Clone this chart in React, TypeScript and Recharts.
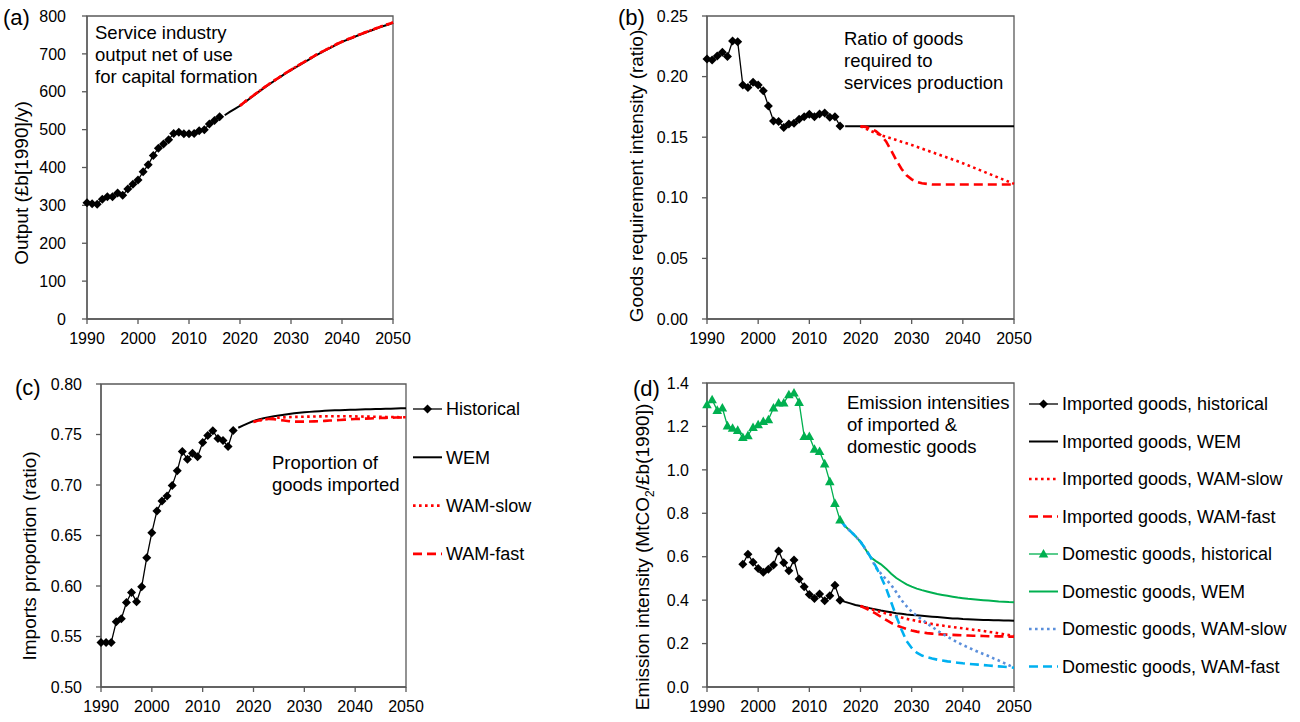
import React from "react";
import { LineChart, Line, XAxis, YAxis, ReferenceArea } from "recharts";

const xTicks = [1990, 2000, 2010, 2020, 2030, 2040, 2050];

// (a) service industry output, £b[1990]/y
const outHist = [307, 304, 303, 316, 323, 323, 333, 327, 343, 356, 367, 389, 407, 432, 451, 462, 473, 490, 493, 489, 489, 490, 497, 500, 515, 524, 534];
const outWem = [538, 547, 555, 563, 573, 583, 593, 603, 613, 622, 631, 640, 649, 657, 665, 673, 681, 689, 697, 704, 711, 718, 725, 732, 737, 742, 748, 753, 758, 763, 768, 773, 777, 782];
const outWam = [563, 574, 584, 594, 604, 614, 623, 632, 641, 650, 658, 666, 674, 682, 690, 698, 705, 712, 719, 726, 732, 738, 743, 749, 754, 759, 764, 769, 774, 778, 783];

// (b) goods requirement intensity
const ratioHist = [0.2145, 0.2137, 0.217, 0.22, 0.2165, 0.2294, 0.2288, 0.193, 0.191, 0.1953, 0.193, 0.1884, 0.1757, 0.1634, 0.163, 0.158, 0.1609, 0.1615, 0.1648, 0.1669, 0.1689, 0.1669, 0.1691, 0.17, 0.1664, 0.1669, 0.1592];
const ratioWem = [0.159, 0.159, 0.159, 0.159, 0.159, 0.159, 0.159, 0.159, 0.159, 0.159, 0.159, 0.159, 0.159, 0.159, 0.159, 0.159, 0.159, 0.159, 0.159, 0.159, 0.159, 0.159, 0.159, 0.159, 0.159, 0.159, 0.159, 0.159, 0.159, 0.159, 0.159, 0.159, 0.159, 0.159];
const ratioSlow = [0.159, 0.1571, 0.1552, 0.1533, 0.1517, 0.1503, 0.149, 0.1477, 0.1463, 0.145, 0.1436, 0.1421, 0.1406, 0.1391, 0.1376, 0.1361, 0.1346, 0.1331, 0.1316, 0.1301, 0.1285, 0.1268, 0.1251, 0.1234, 0.1217, 0.12, 0.1183, 0.1166, 0.1149, 0.1132, 0.1115];
const ratioFast = [0.159, 0.1585, 0.1572, 0.155, 0.1515, 0.1465, 0.139, 0.131, 0.124, 0.1185, 0.1152, 0.1132, 0.112, 0.1115, 0.111, 0.111, 0.111, 0.111, 0.111, 0.111, 0.111, 0.111, 0.111, 0.111, 0.111, 0.111, 0.111, 0.111, 0.111, 0.111, 0.111];

// (c) imports proportion
const impHist = [0.544, 0.544, 0.544, 0.5645, 0.5675, 0.5837, 0.5936, 0.5843, 0.5992, 0.628, 0.6528, 0.6743, 0.6842, 0.6892, 0.6994, 0.714, 0.7332, 0.7256, 0.7315, 0.728, 0.742, 0.749, 0.7537, 0.746, 0.744, 0.738, 0.754];
const impWem = [0.7567, 0.759, 0.7613, 0.7634, 0.7648, 0.7661, 0.7672, 0.768, 0.7688, 0.7696, 0.7703, 0.771, 0.7715, 0.772, 0.7724, 0.7728, 0.7731, 0.7734, 0.7737, 0.7739, 0.7741, 0.7743, 0.7745, 0.7746, 0.7748, 0.7749, 0.775, 0.7752, 0.7753, 0.7755, 0.7756, 0.7757, 0.7759, 0.776];
const impSlow = [0.7625, 0.7637, 0.7647, 0.7655, 0.7662, 0.7667, 0.767, 0.7672, 0.7674, 0.7675, 0.7676, 0.7677, 0.7678, 0.7679, 0.768, 0.768, 0.768, 0.768, 0.768, 0.768, 0.7679, 0.7678, 0.7677, 0.7677, 0.7676, 0.7675, 0.7674, 0.7673, 0.7672, 0.7671, 0.767];
const impFast = [0.7625, 0.7638, 0.7648, 0.7655, 0.7652, 0.7645, 0.7638, 0.7632, 0.7628, 0.7627, 0.7627, 0.7628, 0.763, 0.7632, 0.7635, 0.7638, 0.7641, 0.7644, 0.7647, 0.765, 0.7653, 0.7655, 0.7657, 0.7659, 0.7661, 0.7663, 0.7665, 0.7666, 0.7668, 0.7669, 0.767];

// (d) emission intensities, MtCO2/£b(1990)
const eImpHist = [0.565, 0.611, 0.574, 0.546, 0.528, 0.542, 0.562, 0.626, 0.572, 0.535, 0.585, 0.497, 0.462, 0.426, 0.408, 0.428, 0.397, 0.42, 0.469, 0.4];
const eImpWem = [0.4, 0.392, 0.385, 0.378, 0.373, 0.367, 0.362, 0.357, 0.352, 0.348, 0.344, 0.34, 0.337, 0.334, 0.332, 0.33, 0.328, 0.326, 0.324, 0.322, 0.32, 0.318, 0.316, 0.315, 0.313, 0.312, 0.311, 0.31, 0.309, 0.308, 0.307, 0.307, 0.306, 0.306, 0.305];
const eImpSlow = [0.373, 0.366, 0.359, 0.352, 0.345, 0.339, 0.332, 0.326, 0.32, 0.314, 0.309, 0.304, 0.299, 0.295, 0.29, 0.286, 0.283, 0.279, 0.276, 0.273, 0.27, 0.267, 0.264, 0.261, 0.258, 0.254, 0.251, 0.247, 0.243, 0.239, 0.235];
const eImpFast = [0.373, 0.362, 0.35, 0.338, 0.323, 0.309, 0.295, 0.284, 0.275, 0.267, 0.26, 0.255, 0.251, 0.248, 0.246, 0.244, 0.242, 0.241, 0.24, 0.239, 0.238, 0.237, 0.236, 0.236, 0.235, 0.234, 0.234, 0.233, 0.233, 0.232, 0.232];
const eDomHist = [1.3, 1.323, 1.274, 1.285, 1.203, 1.192, 1.182, 1.149, 1.158, 1.195, 1.208, 1.223, 1.231, 1.285, 1.308, 1.308, 1.346, 1.354, 1.311, 1.154, 1.154, 1.095, 1.085, 1.028, 0.946, 0.846, 0.769];
const eDomWem = [0.769, 0.74, 0.718, 0.695, 0.669, 0.633, 0.597, 0.58, 0.565, 0.545, 0.522, 0.502, 0.487, 0.473, 0.462, 0.453, 0.446, 0.44, 0.434, 0.428, 0.424, 0.42, 0.416, 0.412, 0.409, 0.406, 0.404, 0.402, 0.4, 0.398, 0.396, 0.394, 0.393, 0.391, 0.39];
const eDomSlow = [0.769, 0.74, 0.718, 0.695, 0.669, 0.633, 0.597, 0.55, 0.522, 0.496, 0.47, 0.436, 0.4, 0.372, 0.347, 0.328, 0.31, 0.293, 0.277, 0.26, 0.245, 0.231, 0.218, 0.205, 0.193, 0.183, 0.172, 0.162, 0.152, 0.143, 0.132, 0.122, 0.111, 0.1, 0.089];
const eDomFast = [0.769, 0.74, 0.718, 0.695, 0.669, 0.635, 0.597, 0.555, 0.508, 0.455, 0.39, 0.325, 0.265, 0.212, 0.18, 0.158, 0.145, 0.137, 0.131, 0.126, 0.122, 0.118, 0.115, 0.112, 0.109, 0.107, 0.105, 0.103, 0.101, 0.099, 0.097, 0.095, 0.093, 0.091, 0.089];

const series = (start: number, values: number[]) => values.map((v, i) => ({ year: start + i, v }));

const FONT = '"Liberation Sans", Arial, sans-serif';
const AXIS = "#595959";

const Diamond = (p: any) => {
  if (p.cx == null || p.cy == null) return <g key={p.index} />;
  const s = 4.5;
  return <path key={p.index} d={`M${p.cx},${p.cy - s} L${p.cx + s},${p.cy} L${p.cx},${p.cy + s} L${p.cx - s},${p.cy} Z`} fill="#000" />;
};

const Triangle = (p: any) => {
  if (p.cx == null || p.cy == null) return <g key={p.index} />;
  return <path key={p.index} d={`M${p.cx},${p.cy - 5} L${p.cx + 4.8},${p.cy + 3.6} L${p.cx - 4.8},${p.cy + 3.6} Z`} fill="#00b050" />;
};

type Style = { stroke: string; width: number; dash?: string; dot?: any };

const styles: Record<string, Style> = {
  hist: { stroke: "#000", width: 1.3, dot: Diamond },
  wem: { stroke: "#000", width: 2 },
  slow: { stroke: "#ff0000", width: 2.6, dash: "2.6 3.4" },
  fast: { stroke: "#ff0000", width: 2.6, dash: "9 5" },
  domHist: { stroke: "#00b050", width: 1.3, dot: Triangle },
  domWem: { stroke: "#00b050", width: 2 },
  domSlow: { stroke: "#5b8fdb", width: 2.6, dash: "2.6 3.4" },
  domFast: { stroke: "#00b0f0", width: 2.6, dash: "9 5" },
};

type SeriesDef = { name: string; style: string; data: { year: number; v: number }[] };

type PanelProps = {
  left: number;
  top: number;
  width: number;
  height: number;
  margin: { top: number; right: number; left: number; bottom: number };
  yWidth: number;
  yDomain: [number, number];
  yTicks: number[];
  digits: number;
  yTickMargin: number;
  lines: SeriesDef[];
};

function Panel({ left, top, width, height, margin, yWidth, yDomain, yTicks, digits, yTickMargin, lines }: PanelProps) {
  return (
    <div style={{ position: "absolute", left, top }}>
      <LineChart width={width} height={height} margin={margin}>
        <XAxis
          dataKey="year"
          type="number"
          domain={[1990, 2050]}
          ticks={xTicks}
          interval={0}
          height={35}
          tickSize={5}
          tickMargin={9}
          axisLine={{ stroke: AXIS, strokeWidth: 1.3 }}
          tickLine={{ stroke: AXIS, strokeWidth: 1.3 }}
          tick={{ fill: "#000", fontSize: 16, fontFamily: FONT }}
        />
        <YAxis
          type="number"
          domain={yDomain}
          ticks={yTicks}
          interval={0}
          width={yWidth}
          tickSize={5}
          tickMargin={yTickMargin}
          tickFormatter={(v: number) => v.toFixed(digits)}
          axisLine={{ stroke: AXIS, strokeWidth: 1.3 }}
          tickLine={{ stroke: AXIS, strokeWidth: 1.3 }}
          tick={{ fill: "#000", fontSize: 16, fontFamily: FONT }}
        />
        <ReferenceArea x1={1990} x2={2050} y1={yDomain[0]} y2={yDomain[1]} fill="none" stroke={AXIS} strokeWidth={1.3} />
        {lines.map((l) => {
          const s = styles[l.style];
          return (
            <Line
              key={l.name}
              name={l.name}
              data={l.data}
              dataKey="v"
              type="linear"
              stroke={s.stroke}
              strokeWidth={s.width}
              strokeDasharray={s.dash}
              dot={s.dot ? s.dot : false}
              activeDot={false}
              isAnimationActive={false}
            />
          );
        })}
      </LineChart>
    </div>
  );
}

function LegendBox({ left, top, rowGap, items }: { left: number; top: number; rowGap: number; items: { label: string; style: string }[] }) {
  return (
    <svg style={{ position: "absolute", left, top, overflow: "visible" }} width={260} height={rowGap * items.length}>
      {items.map((it, i) => {
        const s = styles[it.style];
        const y = i * rowGap;
        const Dot = s.dot;
        return (
          <g key={it.label}>
            <line x1={0} x2={29} y1={y} y2={y} stroke={s.stroke} strokeWidth={s.width} strokeDasharray={s.dash} />
            {Dot ? <Dot cx={14.5} cy={y} index={0} /> : null}
            <text x={33} y={y} dy="0.35em" fontSize={18} fontFamily={FONT} fill="#000">
              {it.label}
            </text>
          </g>
        );
      })}
    </svg>
  );
}

const VTitle = ({ cx, cy, children }: { cx: number; cy: number; children: React.ReactNode }) => (
  <div
    style={{
      position: "absolute",
      left: cx,
      top: cy,
      transform: "translate(-50%, -50%) rotate(-90deg)",
      whiteSpace: "nowrap",
      fontSize: 19,
      lineHeight: "22px",
    }}
  >
    {children}
  </div>
);

const Note = ({ left, top, lines }: { left: number; top: number; lines: string[] }) => (
  <div style={{ position: "absolute", left, top, fontSize: 18.5, lineHeight: "22px", whiteSpace: "nowrap" }}>
    {lines.map((t) => (
      <div key={t}>{t}</div>
    ))}
  </div>
);

const Tag = ({ left, top, text }: { left: number; top: number; text: string }) => (
  <div style={{ position: "absolute", left, top, fontSize: 22, lineHeight: "24px" }}>{text}</div>
);

export default function App() {
  return (
    <div style={{ position: "absolute", left: 0, top: 0, width: 1300, height: 722, background: "#fff", fontFamily: FONT, color: "#000", overflow: "hidden" }}>
      <Panel
        left={0}
        top={0}
        width={422}
        height={354}
        margin={{ top: 16, right: 29, left: 0, bottom: 0 }}
        yWidth={87}
        yDomain={[0, 800]}
        yTicks={[0, 100, 200, 300, 400, 500, 600, 700, 800]}
        digits={0}
        yTickMargin={16}
        lines={[
          { name: "Historical", style: "hist", data: series(1990, outHist) },
          { name: "WEM", style: "wem", data: series(2017, outWem) },
          { name: "WAM-slow", style: "slow", data: series(2020, outWam) },
          { name: "WAM-fast", style: "fast", data: series(2020, outWam) },
        ]}
      />
      <Panel
        left={620}
        top={0}
        width={422}
        height={354}
        margin={{ top: 16, right: 28, left: 0, bottom: 0 }}
        yWidth={87}
        yDomain={[0, 0.25]}
        yTicks={[0, 0.05, 0.1, 0.15, 0.2, 0.25]}
        digits={2}
        yTickMargin={14}
        lines={[
          { name: "Historical", style: "hist", data: series(1990, ratioHist) },
          { name: "WEM", style: "wem", data: series(2017, ratioWem) },
          { name: "WAM-slow", style: "slow", data: series(2020, ratioSlow) },
          { name: "WAM-fast", style: "fast", data: series(2020, ratioFast) },
        ]}
      />
      <Panel
        left={0}
        top={360}
        width={430}
        height={362}
        margin={{ top: 24, right: 24, left: 0, bottom: 0 }}
        yWidth={101}
        yDomain={[0.5, 0.8]}
        yTicks={[0.5, 0.55, 0.6, 0.65, 0.7, 0.75, 0.8]}
        digits={2}
        yTickMargin={14}
        lines={[
          { name: "Historical", style: "hist", data: series(1990, impHist) },
          { name: "WEM", style: "wem", data: series(2017, impWem) },
          { name: "WAM-slow", style: "slow", data: series(2020, impSlow) },
          { name: "WAM-fast", style: "fast", data: series(2020, impFast) },
        ]}
      />
      <Panel
        left={620}
        top={360}
        width={422}
        height={362}
        margin={{ top: 23, right: 28, left: 0, bottom: 0 }}
        yWidth={87}
        yDomain={[0, 1.4]}
        yTicks={[0, 0.2, 0.4, 0.6, 0.8, 1.0, 1.2, 1.4]}
        digits={1}
        yTickMargin={13}
        lines={[
          { name: "Imported goods, historical", style: "hist", data: series(1997, eImpHist) },
          { name: "Imported goods, WEM", style: "wem", data: series(2016, eImpWem) },
          { name: "Imported goods, WAM-slow", style: "slow", data: series(2020, eImpSlow) },
          { name: "Imported goods, WAM-fast", style: "fast", data: series(2020, eImpFast) },
          { name: "Domestic goods, historical", style: "domHist", data: series(1990, eDomHist) },
          { name: "Domestic goods, WEM", style: "domWem", data: series(2016, eDomWem) },
          { name: "Domestic goods, WAM-slow", style: "domSlow", data: series(2016, eDomSlow) },
          { name: "Domestic goods, WAM-fast", style: "domFast", data: series(2016, eDomFast) },
        ]}
      />

      <LegendBox
        left={413}
        top={409}
        rowGap={48.3}
        items={[
          { label: "Historical", style: "hist" },
          { label: "WEM", style: "wem" },
          { label: "WAM-slow", style: "slow" },
          { label: "WAM-fast", style: "fast" },
        ]}
      />
      <LegendBox
        left={1029}
        top={404}
        rowGap={37.5}
        items={[
          { label: "Imported goods, historical", style: "hist" },
          { label: "Imported goods, WEM", style: "wem" },
          { label: "Imported goods, WAM-slow", style: "slow" },
          { label: "Imported goods, WAM-fast", style: "fast" },
          { label: "Domestic goods, historical", style: "domHist" },
          { label: "Domestic goods, WEM", style: "domWem" },
          { label: "Domestic goods, WAM-slow", style: "domSlow" },
          { label: "Domestic goods, WAM-fast", style: "domFast" },
        ]}
      />

      <VTitle cx={22} cy={183}>Output (£b[1990]/y)</VTitle>
      <VTitle cx={637} cy={176}>Goods requirement intensity (ratio)</VTitle>
      <VTitle cx={30} cy={556}>Imports proportion (ratio)</VTitle>
      <VTitle cx={643} cy={557}>
        Emission intensity (MtCO<sub style={{ fontSize: 12, lineHeight: 0 }}>2</sub>/£b(1990])
      </VTitle>

      <Note left={95} top={22} lines={["Service industry", "output net of use", "for capital formation"]} />
      <Note left={844} top={28} lines={["Ratio of goods", "required to", "services production"]} />
      <Note left={272} top={452} lines={["Proportion of", "goods imported"]} />
      <Note left={847} top={392} lines={["Emission intensities", "of imported &", "domestic goods"]} />

      <Tag left={3} top={6} text="(a)" />
      <Tag left={618} top={6} text="(b)" />
      <Tag left={15} top={376} text="(c)" />
      <Tag left={633} top={377} text="(d)" />
    </div>
  );
}
